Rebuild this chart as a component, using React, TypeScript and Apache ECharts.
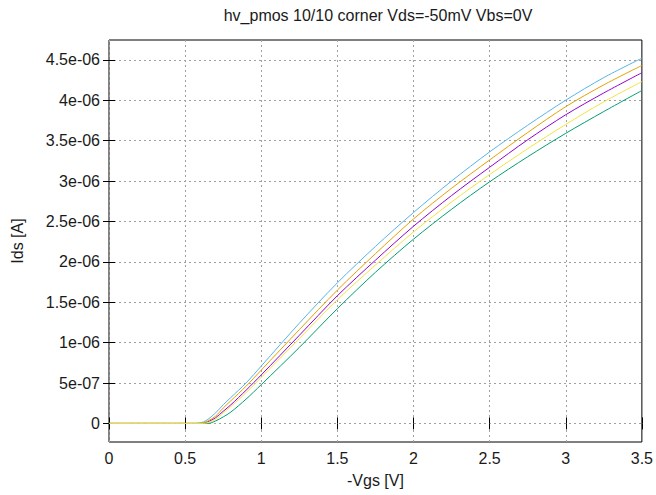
import React, { useEffect, useRef } from "react";
import * as echarts from "echarts";

// -Vgs sample points [V]
const vgs = [0, 0.5, 0.55, 0.57, 0.59, 0.61, 0.62, 0.65, 0.7, 0.75, 0.8, 0.9, 1.0, 1.25, 1.5, 1.75, 2.0, 2.25, 2.5, 2.75, 3.0, 3.25, 3.5];

// Ids values in µA (converted to A labels on the axis)
const idsPurple = [0, 0, 0, 0, 0, 0, 0.005, 0.02, 0.07, 0.15, 0.23, 0.41, 0.6, 1.09, 1.58, 2.02, 2.44, 2.82, 3.17, 3.51, 3.82, 4.09, 4.34];
const idsGreen = [0, 0, 0, 0, 0, 0, 0, 0, 0.03, 0.08, 0.14, 0.3, 0.48, 0.94, 1.42, 1.87, 2.28, 2.65, 2.99, 3.3, 3.59, 3.86, 4.12];
const idsSky = [0, 0, 0, 0, 0.005, 0.012, 0.018, 0.05, 0.13, 0.23, 0.32, 0.5, 0.71, 1.24, 1.74, 2.19, 2.61, 3.0, 3.36, 3.69, 4.0, 4.28, 4.52];
const idsOrange = [0, 0, 0, 0, 0, 0.006, 0.01, 0.03, 0.09, 0.19, 0.28, 0.46, 0.66, 1.16, 1.65, 2.1, 2.53, 2.91, 3.26, 3.6, 3.92, 4.19, 4.43];
const idsYellow = [0, 0, 0, 0, 0, 0, 0, 0.01, 0.05, 0.13, 0.21, 0.38, 0.57, 1.05, 1.53, 1.96, 2.37, 2.74, 3.08, 3.4, 3.7, 3.98, 4.23];

const seriesNames = ["purple", "green", "sky", "orange", "yellow"];
const seriesData = [idsPurple, idsGreen, idsSky, idsOrange, idsYellow];
const seriesColors = ["#9400d3", "#009e73", "#56b4e9", "#e69f00", "#f0e442"];

const xTicks = [0, 0.5, 1, 1.5, 2, 2.5, 3, 3.5];
const yTicks = [0, 0.5, 1, 1.5, 2, 2.5, 3, 3.5, 4, 4.5];
const yTickLabels = ["0", "5e-07", "1e-06", "1.5e-06", "2e-06", "2.5e-06", "3e-06", "3.5e-06", "4e-06", "4.5e-06"];

const Y_MIN = -0.23;
const Y_MAX = 4.745;

const FONT = "Liberation Sans, Arial, sans-serif";

export default function App() {
  const ref = useRef<HTMLDivElement>(null);
  useEffect(() => {
    if (!ref.current) return;
    const chart = echarts.init(ref.current, null, { renderer: "svg" });
    const gridLine = { show: true, lineStyle: { color: "#a0a0a0", type: [2, 3] as any, width: 1 } };
    const tick = { show: true, inside: true, length: 6, lineStyle: { color: "#000", width: 1 } };
    chart.setOption({
      animation: false,
      backgroundColor: "#fff",
      title: {
        text: "hv_pmos 10/10 corner Vds=-50mV Vbs=0V",
        left: 373,
        textAlign: "center",
        top: 2,
        textStyle: { fontFamily: FONT, fontSize: 16, fontWeight: "normal", color: "#1a1a1a" },
      },
      grid: { left: 109, right: 14, top: 40, bottom: 53, show: true, borderColor: "#000", borderWidth: 1, backgroundColor: "transparent" },
      xAxis: [
        {
          type: "value",
          min: 0,
          max: 3.5,
          interval: 0.5,
          position: "bottom",
          name: "-Vgs [V]",
          nameLocation: "middle",
          nameGap: 30,
          nameTextStyle: { fontFamily: FONT, fontSize: 16, color: "#1a1a1a" },
          axisLine: { show: false },
          axisTick: { ...tick, customValues: xTicks },
          axisLabel: { fontFamily: FONT, fontSize: 16, color: "#1a1a1a", margin: 8, customValues: xTicks, formatter: (v: number) => String(v) },
          splitLine: gridLine,
        },
        {
          type: "value",
          min: 0,
          max: 3.5,
          interval: 0.5,
          position: "top",
          axisLine: { show: false },
          axisTick: { ...tick, customValues: xTicks },
          axisLabel: { show: false, customValues: xTicks },
          splitLine: { show: false },
        },
      ],
      yAxis: [
        {
          type: "value",
          min: Y_MIN,
          max: Y_MAX,
          position: "left",
          name: "Ids [A]",
          nameLocation: "middle",
          nameGap: 84,
          nameRotate: 90,
          nameTextStyle: { fontFamily: FONT, fontSize: 16, color: "#1a1a1a" },
          axisLine: { show: false },
          axisTick: { ...tick, customValues: yTicks },
          axisLabel: {
            fontFamily: FONT,
            fontSize: 16,
            color: "#1a1a1a",
            margin: 9,
            customValues: yTicks,
            formatter: (v: number) => {
              const i = yTicks.indexOf(v);
              return i >= 0 ? yTickLabels[i] : "";
            },
          },
          splitLine: gridLine,
        },
        {
          type: "value",
          min: Y_MIN,
          max: Y_MAX,
          position: "right",
          axisLine: { show: false },
          axisTick: { ...tick, customValues: yTicks },
          axisLabel: { show: false, customValues: yTicks },
          splitLine: { show: false },
        },
      ],
      series: seriesNames.map((name, s) => ({
        name,
        type: "line",
        xAxisIndex: 0,
        yAxisIndex: 0,
        showSymbol: false,
        symbol: "none",
        smooth: 0.3,
        data: vgs.map((x, i) => [x, seriesData[s][i]]),
        lineStyle: { color: seriesColors[s], width: 1 },
        itemStyle: { color: seriesColors[s] },
      })),
    });
    return () => chart.dispose();
  }, []);
  return <div ref={ref} style={{ width: 656, height: 495, position: "absolute", left: 0, top: 0 }} />;
}
